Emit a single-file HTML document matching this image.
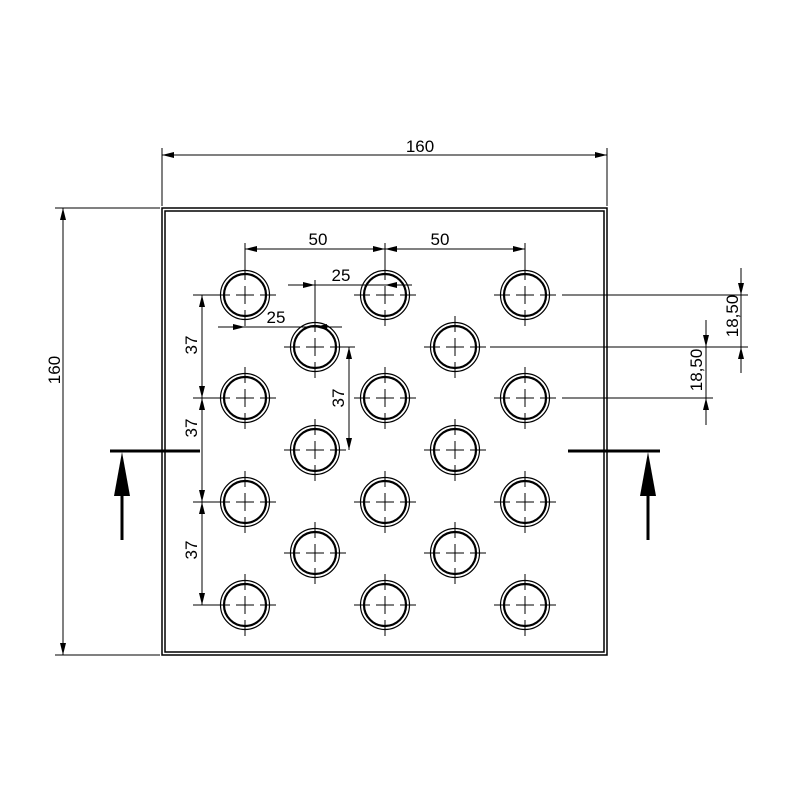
<!DOCTYPE html>
<html><head><meta charset="utf-8"><style>body{margin:0;background:#fff}svg{display:block}text{font-family:"Liberation Sans",sans-serif;font-size:17px;fill:#000}</style></head>
<body>
<svg width="800" height="800" viewBox="0 0 800 800" xmlns="http://www.w3.org/2000/svg">
<defs>
<marker id="a" viewBox="0 0 12 6" refX="12" refY="3" markerWidth="12" markerHeight="6" markerUnits="userSpaceOnUse" orient="auto-start-reverse"><path d="M0,0L12,3L0,6z" fill="#000"/></marker>
<g id="h">
<circle r="24.5" fill="none" stroke="#000" stroke-width="1.2"/>
<circle r="21" fill="none" stroke="#000" stroke-width="2.2"/>
<path d="M-31,0H-15M-9,0H9M15,0H31M0,-31V-15M0,-9V9M0,15V31" stroke="#000" stroke-width="1"/>
</g>
</defs>
<rect x="162" y="208" width="445" height="447" fill="none" stroke="#000" stroke-width="1.5"/>
<rect x="165" y="211" width="439" height="441" fill="none" stroke="#000" stroke-width="1.5"/>
<g>
<use href="#h" x="245" y="295"/><use href="#h" x="385" y="295"/><use href="#h" x="525" y="295"/>
<use href="#h" x="315" y="347"/><use href="#h" x="455" y="347"/>
<use href="#h" x="245" y="398"/><use href="#h" x="385" y="398"/><use href="#h" x="525" y="398"/>
<use href="#h" x="315" y="450"/><use href="#h" x="455" y="450"/>
<use href="#h" x="245" y="502"/><use href="#h" x="385" y="502"/><use href="#h" x="525" y="502"/>
<use href="#h" x="315" y="553"/><use href="#h" x="455" y="553"/>
<use href="#h" x="245" y="605"/><use href="#h" x="385" y="605"/><use href="#h" x="525" y="605"/>
</g>
<g stroke="#000" stroke-width="1" fill="none">
<line x1="162" y1="148" x2="162" y2="206"/><line x1="607" y1="148" x2="607" y2="206"/>
<line x1="162" y1="155" x2="607" y2="155" marker-start="url(#a)" marker-end="url(#a)"/>
<line x1="55" y1="208" x2="160" y2="208"/><line x1="55" y1="655" x2="160" y2="655"/>
<line x1="63" y1="208" x2="63" y2="655" marker-start="url(#a)" marker-end="url(#a)"/>
<line x1="245" y1="243" x2="245" y2="268"/><line x1="385" y1="243" x2="385" y2="268"/><line x1="525" y1="243" x2="525" y2="268"/>
<line x1="245" y1="249" x2="385" y2="249" marker-start="url(#a)" marker-end="url(#a)"/>
<line x1="385" y1="249" x2="525" y2="249" marker-start="url(#a)" marker-end="url(#a)"/>
<line x1="315" y1="280" x2="315" y2="318"/>
<line x1="288" y1="285" x2="315" y2="285" marker-end="url(#a)"/>
<line x1="315" y1="285" x2="412" y2="285"/>
<line x1="412" y1="285" x2="385" y2="285" marker-end="url(#a)"/>
<line x1="218" y1="327" x2="245" y2="327" marker-end="url(#a)"/>
<line x1="245" y1="327" x2="342" y2="327"/>
<line x1="342" y1="327" x2="315" y2="327" marker-end="url(#a)"/>
<line x1="193" y1="295" x2="214" y2="295"/><line x1="193" y1="398" x2="214" y2="398"/><line x1="193" y1="502" x2="214" y2="502"/><line x1="193" y1="605" x2="214" y2="605"/>
<line x1="202" y1="295" x2="202" y2="398" marker-start="url(#a)" marker-end="url(#a)"/>
<line x1="202" y1="398" x2="202" y2="502" marker-start="url(#a)" marker-end="url(#a)"/>
<line x1="202" y1="502" x2="202" y2="605" marker-start="url(#a)" marker-end="url(#a)"/>
<line x1="343" y1="347" x2="355" y2="347"/>
<line x1="349" y1="347" x2="349" y2="450" marker-start="url(#a)" marker-end="url(#a)"/>
<line x1="562" y1="295" x2="748" y2="295"/>
<line x1="490" y1="347" x2="748" y2="347"/>
<line x1="562" y1="398" x2="713" y2="398"/>
<line x1="741" y1="268" x2="741" y2="373"/>
<line x1="741" y1="268" x2="741" y2="295" marker-end="url(#a)"/>
<line x1="741" y1="373" x2="741" y2="347" marker-end="url(#a)"/>
<line x1="706" y1="320" x2="706" y2="425"/>
<line x1="706" y1="320" x2="706" y2="347" marker-end="url(#a)"/>
<line x1="706" y1="425" x2="706" y2="398" marker-end="url(#a)"/>
</g>
<g stroke="#000" stroke-width="3" fill="none">
<line x1="110" y1="451" x2="200" y2="451"/>
<line x1="568" y1="451" x2="660" y2="451"/>
<line x1="122" y1="490" x2="122" y2="540"/>
<line x1="648" y1="490" x2="648" y2="540"/>
</g>
<path d="M122,452L114,496L130,496z" fill="#000"/>
<path d="M648,452L640,496L656,496z" fill="#000"/>
<text x="420" y="152" text-anchor="middle">160</text>
<text transform="translate(60,370) rotate(-90)" text-anchor="middle">160</text>
<text x="318" y="245" text-anchor="middle">50</text>
<text x="440" y="245" text-anchor="middle">50</text>
<text x="341" y="281" text-anchor="middle">25</text>
<text x="276" y="323" text-anchor="middle">25</text>
<text transform="translate(197,345) rotate(-90)" text-anchor="middle">37</text>
<text transform="translate(197,428) rotate(-90)" text-anchor="middle">37</text>
<text transform="translate(197,550) rotate(-90)" text-anchor="middle">37</text>
<text transform="translate(344,398) rotate(-90)" text-anchor="middle">37</text>
<text transform="translate(738,316) rotate(-90)" text-anchor="middle">18,50</text>
<text transform="translate(702,370) rotate(-90)" text-anchor="middle">18,50</text>
</svg>
</body></html>
